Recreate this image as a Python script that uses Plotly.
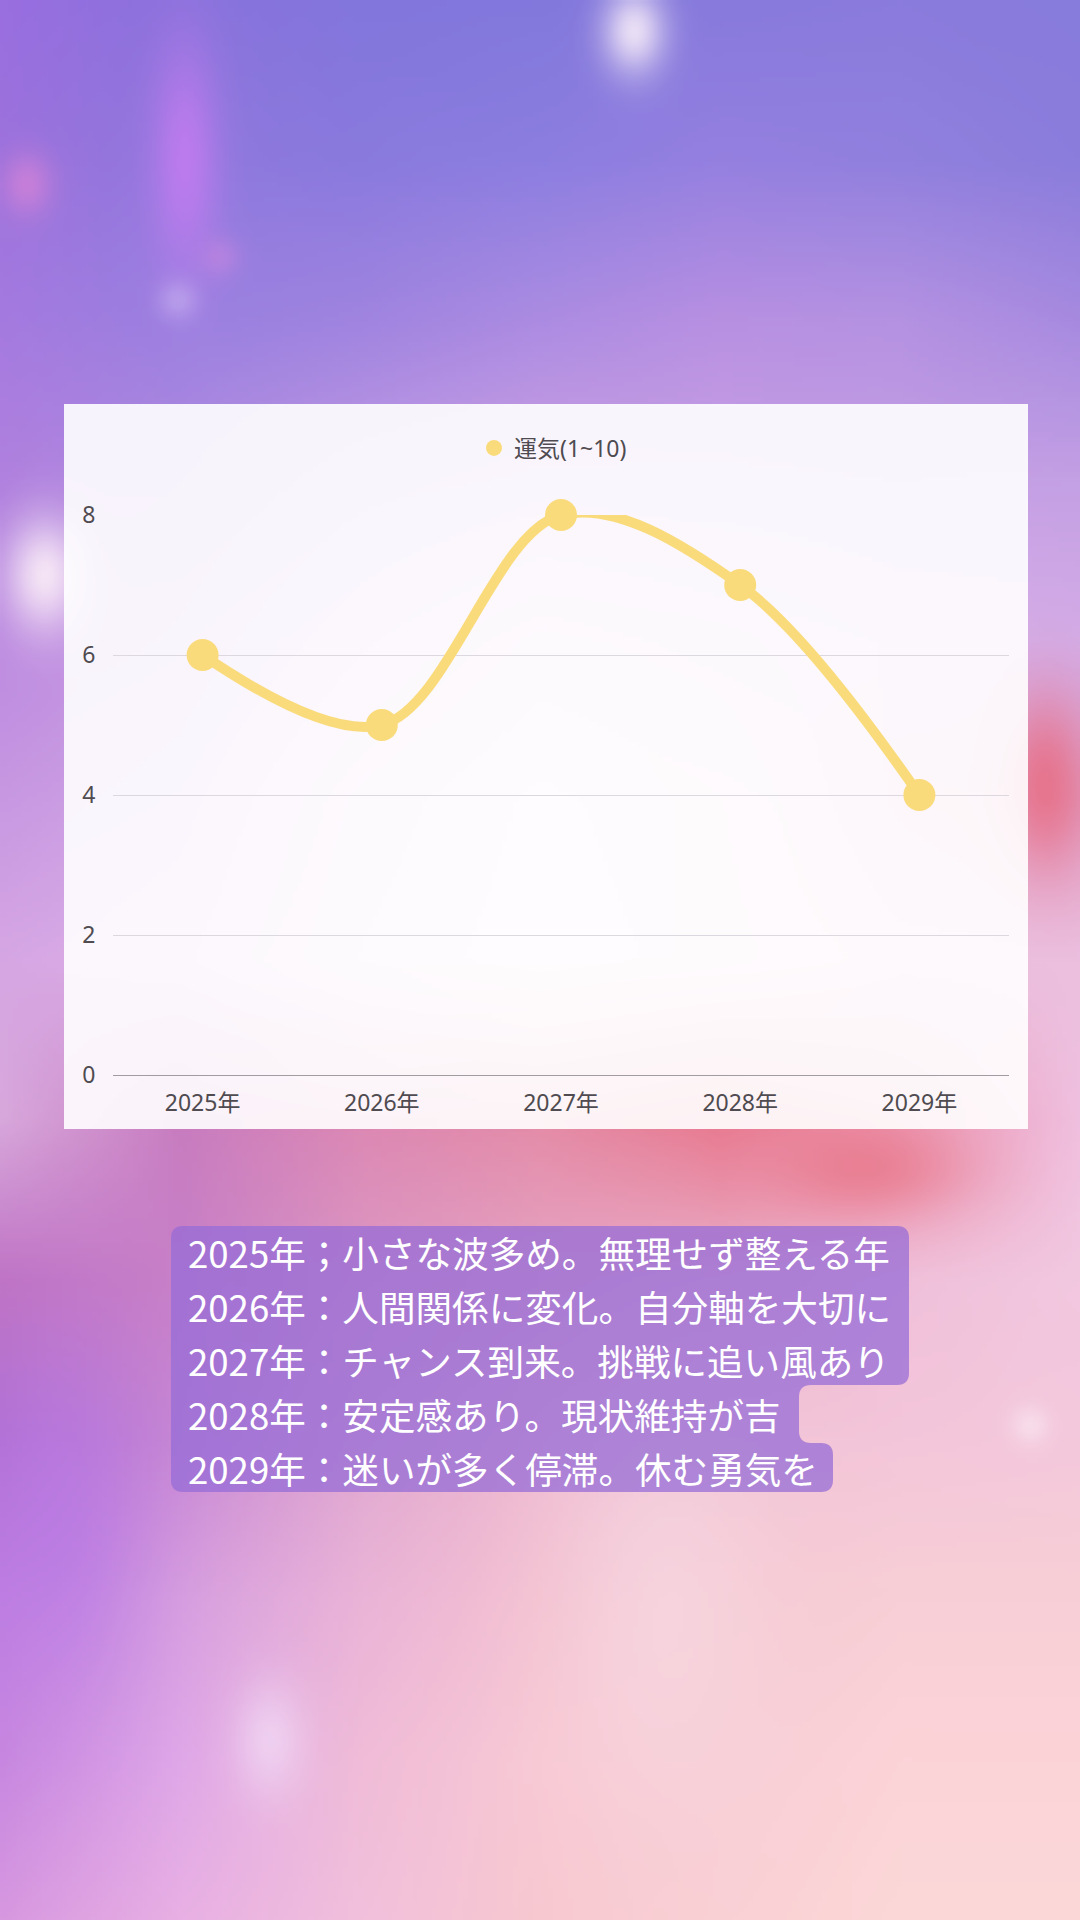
import base64
import struct
import zlib

import numpy as np
import plotly.graph_objects as go

# ---------------- data ----------------
years = ["2025年", "2026年", "2027年", "2028年", "2029年"]
fortune = [6, 5, 8, 7, 4]
series_name = "運気(1~10)"
y_ticks = [0, 2, 4, 6, 8]
notes = [
    "2025年；小さな波多め。無理せず整える年",
    "2026年：人間関係に変化。自分軸を大切に",
    "2027年：チャンス到来。挑戦に追い風あり",
    "2028年：安定感あり。現状維持が吉",
    "2029年：迷いが多く停滞。休む勇気を",
]

# ---------------- style ----------------
W_PX, H_PX = 1080, 1920
YELLOW = "#fadb7c"
TICK_COLOR = "#4f4b50"
FONT = "Noto Sans, Noto Sans CJK JP, sans-serif"
JP_FONT = "Noto Sans CJK JP, sans-serif"


def hex2rgb(h):
    return [int(h[i:i + 2], 16) for i in (1, 3, 5)]


# soft blurred background (decoration) built as a small PNG
BG_X = [0, 180, 360, 540, 720, 900, 1080]
BG_Y = [0, 160, 320, 480, 640, 800, 960, 1120, 1280, 1440, 1600, 1760, 1920]
BG_ROWS = [
    ["#9a6ee0", "#8a72dc", "#8276dc", "#8278dc", "#877adc", "#8a7bdc", "#877bdb"],
    ["#9c72dc", "#9078dd", "#8a7ade", "#8c7ee0", "#9580e0", "#9180de", "#8b7ddc"],
    ["#a57ae0", "#9a80e0", "#a084e0", "#ac8ce2", "#b890e2", "#b592e2", "#a78ae0"],
    ["#b080de", "#b08ae0", "#c09ae4", "#cca0e4", "#c8a0e4", "#c59ee4", "#c4a0e4"],
    ["#bc8ae0", "#c496e2", "#d8b0e8", "#e8c8ee", "#e0c0ea", "#d8b0e8", "#d4ace6"],
    ["#c898e2", "#d0a4e4", "#e8c8ee", "#f4dcf0", "#f0d0ec", "#e6b0d0", "#e0a0c8"],
    ["#d6a6e4", "#dcb0e6", "#ecd0f0", "#f6e0f0", "#f2d4ec", "#ecc0e0", "#ecc0e0"],
    ["#d8a8dc", "#c87cc0", "#dc88b4", "#e48ca8", "#e87a90", "#ec98b4", "#f0c0e0"],
    ["#c074c4", "#c880c8", "#dc98c4", "#e6a4c4", "#eab0cc", "#f0c0da", "#f2c8e0"],
    ["#b070d0", "#c888d4", "#e0a8d0", "#eeb8d0", "#f2c2d4", "#f4c6da", "#f4c8dc"],
    ["#c080e0", "#d8a0e0", "#eab4d8", "#f4c0d0", "#f6c8d2", "#f8cfd6", "#f8cfd6"],
    ["#c888e0", "#e0a8e8", "#f0bcd8", "#f8c8d4", "#f8ccd4", "#fcd4d8", "#fcd4d8"],
    ["#d898e0", "#e8b0e4", "#f2c0dc", "#f8c8d0", "#fad0d4", "#fcd8d8", "#fcd8d8"],
]
BG_BLOBS = [
    (634, 31, 22, 30, "#f4eaf8", 0.9),
    (185, 160, 24, 80, "#c47cf0", 0.85),
    (27, 184, 18, 22, "#d884d8", 0.7),
    (178, 300, 14, 14, "#c8b0f0", 0.6),
    (220, 257, 14, 14, "#cc88e0", 0.5),
    (45, 575, 28, 40, "#fff4fa", 0.85),
    (1045, 784, 30, 60, "#e86a80", 0.8),
    (870, 1170, 70, 35, "#e86c7c", 0.6),
    (60, 1520, 60, 120, "#b878e8", 0.6),
    (270, 1740, 25, 40, "#f2dcf8", 0.7),
    (660, 1600, 80, 150, "#f8e4ec", 0.45),
    (1030, 1425, 14, 14, "#fbeaf4", 0.6),
]


def background_png_uri(w=216, h=384):
    gx = np.array(BG_X, float)
    gy = np.array(BG_Y, float)
    grid = np.array([[hex2rgb(c) for c in row] for row in BG_ROWS], float)
    px = (np.arange(w) + 0.5) * W_PX / w
    py = (np.arange(h) + 0.5) * H_PX / h
    tmp = np.stack([np.stack([np.interp(px, gx, grid[r, :, k]) for k in range(3)], -1)
                    for r in range(len(gy))])
    img = np.stack([np.stack([np.interp(py, gy, tmp[:, c, k]) for k in range(3)], -1)
                    for c in range(w)], 1)
    X, Y = np.meshgrid(px, py)
    for cx, cy, sx, sy, col, a in BG_BLOBS:
        wgt = (a * np.exp(-(((X - cx) / sx) ** 2 + ((Y - cy) / sy) ** 2) / 2))[..., None]
        img = img * (1 - wgt) + np.array(hex2rgb(col), float) * wgt
    img8 = np.clip(img, 0, 255).astype(np.uint8)
    raw = b"".join(b"\x00" + img8[r].tobytes() for r in range(h))

    def chunk(t, d):
        c = struct.pack(">I", len(d)) + t + d
        return c + struct.pack(">I", zlib.crc32(t + d) & 0xFFFFFFFF)

    png = (b"\x89PNG\r\n\x1a\n"
           + chunk(b"IHDR", struct.pack(">IIBBBBB", w, h, 8, 2, 0, 0, 0))
           + chunk(b"IDAT", zlib.compress(raw, 9))
           + chunk(b"IEND", b""))
    return "data:image/png;base64," + base64.b64encode(png).decode()


def pxx(x):
    return x / W_PX


def pxy(y):
    return 1 - y / H_PX


def rounded_path(points, r=12):
    """points: list of (x, y) pixel corners in order; every corner filleted."""
    n = len(points)
    parts = []
    for i in range(n):
        p0 = np.array(points[i - 1], float)
        p1 = np.array(points[i], float)
        p2 = np.array(points[(i + 1) % n], float)
        d0 = (p0 - p1) / np.linalg.norm(p0 - p1)
        d2 = (p2 - p1) / np.linalg.norm(p2 - p1)
        a = p1 + d0 * r
        b = p1 + d2 * r
        cmd = "M" if i == 0 else "L"
        parts.append(f"{cmd} {pxx(a[0]):.5f},{pxy(a[1]):.5f}")
        parts.append(f"Q {pxx(p1[0]):.5f},{pxy(p1[1]):.5f} {pxx(b[0]):.5f},{pxy(b[1]):.5f}")
    parts.append("Z")
    return " ".join(parts)


# ---------------- figure ----------------
fig = go.Figure()

fig.add_trace(go.Scatter(
    x=years, y=fortune, mode="lines+markers", name=series_name,
    line=dict(color=YELLOW, width=10, shape="spline", smoothing=1.0),
    marker=dict(color=YELLOW, size=32),
    cliponaxis=False, showlegend=False, hoverinfo="x+y",
))
# legend entry (circle only)
fig.add_trace(go.Scatter(
    x=[None], y=[None], mode="markers", name=series_name,
    marker=dict(color=YELLOW, size=22), showlegend=True,
))

# chart card
fig.add_shape(type="rect", xref="paper", yref="paper",
              x0=pxx(64), x1=pxx(1028), y0=pxy(1129), y1=pxy(404),
              fillcolor="rgba(255,255,255,0.9)", line=dict(width=0), layer="below")

# text panel with stepped rounded background
panel_pts = [(171, 1226), (909, 1226), (909, 1385), (799, 1385), (799, 1443),
             (833, 1443), (833, 1492), (171, 1492)]
fig.add_shape(type="path", xref="paper", yref="paper", path=rounded_path(panel_pts, 12),
              fillcolor="rgba(150,108,214,0.74)", line=dict(width=0), layer="below")

line_centers = [1252, 1306, 1360, 1414, 1468]
for txt, yc in zip(notes, line_centers):
    fig.add_annotation(text=txt, xref="paper", yref="paper", x=pxx(186), y=pxy(yc),
                       xanchor="left", yanchor="middle", showarrow=False,
                       font=dict(family=JP_FONT, size=36.6, color="white"))

fig.update_layout(
    width=W_PX, height=H_PX, autosize=False,
    margin=dict(l=0, r=0, t=0, b=0, pad=0, autoexpand=False),
    paper_bgcolor="#c8a0e0", plot_bgcolor="rgba(0,0,0,0)",
    images=[dict(source=background_png_uri(), xref="paper", yref="paper",
                 x=0, y=1, sizex=1, sizey=1, xanchor="left", yanchor="top",
                 sizing="stretch", layer="below")],
    xaxis=dict(domain=[pxx(113), pxx(1009)], type="category", range=[-0.5, 4.5],
               automargin=False,
               showgrid=False, zeroline=False, showline=True, linecolor="#a09ca2",
               linewidth=1, ticks="outside", ticklen=7, tickcolor="rgba(0,0,0,0)",
               tickfont=dict(family=FONT, size=23, color=TICK_COLOR), fixedrange=True),
    yaxis=dict(domain=[pxy(1075), pxy(515)], range=[0, 8], tickvals=y_ticks,
               automargin=False,
               showgrid=True, gridcolor="#ddd7e0", gridwidth=1, zeroline=False,
               showline=False, ticks="outside", ticklen=12, tickcolor="rgba(0,0,0,0)",
               tickfont=dict(family=FONT, size=23, color=TICK_COLOR), fixedrange=True),
    legend=dict(orientation="h", x=pxx(474), y=pxy(448), xanchor="left", yanchor="middle",
                bgcolor="rgba(0,0,0,0)", borderwidth=0,
                font=dict(family=FONT, size=23, color=TICK_COLOR)),
    showlegend=True,
    hovermode="closest",
)

fig.write_html("out.html")
